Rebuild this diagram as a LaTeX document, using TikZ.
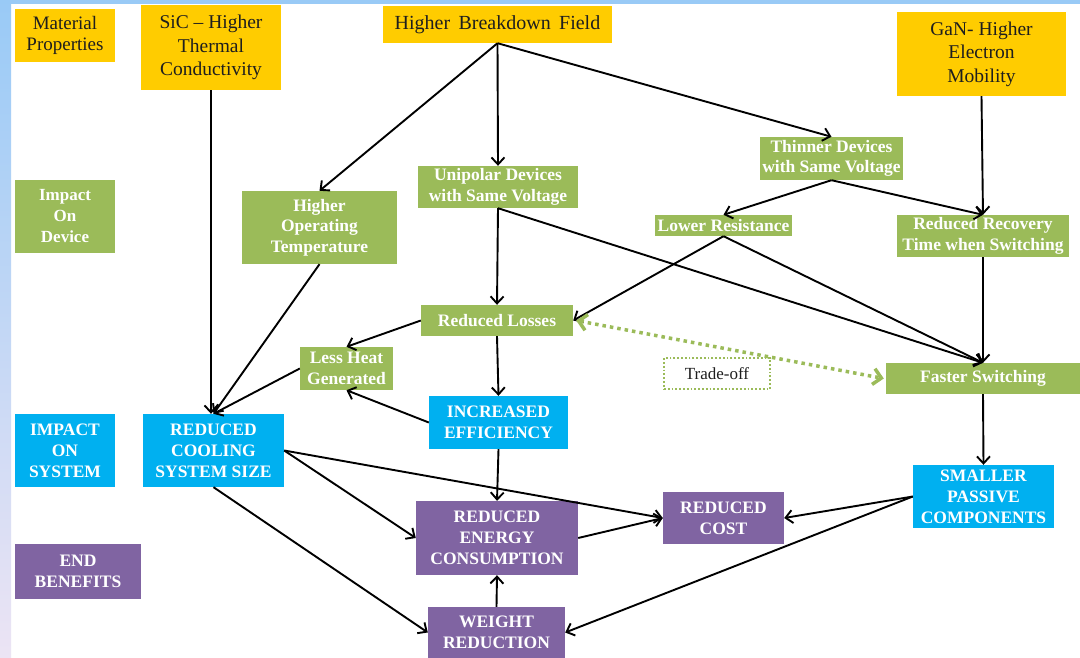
\documentclass[tikz,border=0pt]{standalone}
\usepackage{fontspec}
\setmainfont{Liberation Serif}
\usetikzlibrary{arrows.meta,calc}
\definecolor{cyel}{RGB}{255,204,0}
\definecolor{cgrn}{RGB}{155,187,89}
\definecolor{cblu}{RGB}{0,176,240}
\definecolor{cpur}{RGB}{128,100,162}
\definecolor{cbgtop}{RGB}{153,202,246}
\definecolor{cbgbot}{RGB}{236,228,244}
\definecolor{ctxt}{RGB}{30,30,30}
\begin{document}
\begin{tikzpicture}[x=1pt,y=-1pt,
  base/.style={rectangle, inner sep=0pt, align=center},
  ybox/.style={base, fill=cyel, text=ctxt, font=\fontsize{19.5}{23.5}\selectfont},
  gbox/.style={base, fill=cgrn, text=white, font=\bfseries\fontsize{17.5}{20.5}\selectfont},
  bbox/.style={base, fill=cblu, text=white, font=\bfseries\fontsize{17.5}{21}\selectfont},
  pbox/.style={base, fill=cpur, text=white, font=\bfseries\fontsize{17.5}{21}\selectfont},
  arr/.style={draw=black, line width=1.9pt, -{Straight Barb[length=7pt,width=13pt,line width=1.9pt]}},
  trade/.style={draw=cgrn, line width=3.5pt, dash pattern=on 3.5pt off 4pt,
     {Straight Barb[length=8pt,width=16pt,line width=3.5pt]}-{Straight Barb[length=8pt,width=16pt,line width=3.5pt]}},
  tobox/.style={base, draw=cgrn, line width=1.8pt, dash pattern=on 1.8pt off 2pt, fill=white, text=ctxt,
     font=\fontsize{17}{20}\selectfont}
]
\useasboundingbox (0,0) rectangle (1080,658);
% background
\fill[white] (0,0) rectangle (1080,658);
\fill[cbgtop] (0,0) rectangle (1080,4);
\shade[top color=cbgtop, bottom color=cbgbot] (0,0) rectangle (11,658);

% material properties row
\node[ybox, minimum width=100pt, minimum height=53pt, font=\fontsize{19}{20.5}\selectfont] (mp) at (65,35.5) {Material\\Properties};
\node[ybox, minimum width=140pt, minimum height=85pt] (sic) at (211,47.5) {SiC -- Higher\\Thermal\\Conductivity};
\node[ybox, minimum width=229pt, minimum height=37pt, font=\fontsize{20}{24}\selectfont] (hbf) at (497.5,24.5) {Higher\ \,Breakdown\ \,Field};
\node[ybox, minimum width=169pt, minimum height=84pt] (gan) at (981.5,54) {GaN- Higher\\Electron\\Mobility};

% impact on device row
\node[gbox, minimum width=100pt, minimum height=73pt, font=\bfseries\fontsize{17}{21}\selectfont] (iod) at (65,216.5) {Impact\\On\\Device};
\node[gbox, minimum width=155pt, minimum height=73pt] (hot) at (319.5,227.5) {Higher\\Operating\\Temperature};
\node[gbox, minimum width=160pt, minimum height=42pt] (uni) at (498,187) {Unipolar Devices\\with Same Voltage};
\node[gbox, minimum width=143pt, minimum height=43pt] (thin) at (831.5,158.5) {Thinner Devices\\with Same Voltage};
\node[gbox, minimum width=137pt, minimum height=21pt] (lowr) at (723.5,225.5) {Lower Resistance};
\node[gbox, minimum width=172pt, minimum height=42pt] (rrt) at (983,236) {Reduced Recovery\\Time when Switching};
\node[gbox, minimum width=152pt, minimum height=31pt] (rl) at (497,320.5) {Reduced Losses};
\node[gbox, minimum width=93pt, minimum height=43pt] (lhg) at (346.5,368.5) {Less Heat\\Generated};
\node[gbox, minimum width=194pt, minimum height=31pt] (fs) at (983,378.5) {Faster Switching};
\node[tobox, minimum width=106pt, minimum height=31pt] (to) at (717,373.5) {Trade-off};

% impact on system row
\node[bbox, minimum width=100pt, minimum height=73pt] (ios) at (65,450.5) {IMPACT\\ON\\SYSTEM};
\node[bbox, minimum width=141pt, minimum height=73pt] (rcs) at (213.5,450.5) {REDUCED\\COOLING\\SYSTEM SIZE};
\node[bbox, minimum width=139pt, minimum height=53pt] (ie) at (498.5,422.5) {INCREASED\\EFFICIENCY};
\node[bbox, minimum width=141pt, minimum height=63pt] (spc) at (983.5,496.5) {SMALLER\\PASSIVE\\COMPONENTS};

% end benefits row
\node[pbox, minimum width=126pt, minimum height=55pt] (eb) at (78,571.5) {END\\BENEFITS};
\node[pbox, minimum width=162pt, minimum height=74pt] (rec) at (497,538) {REDUCED\\ENERGY\\CONSUMPTION};
\node[pbox, minimum width=121pt, minimum height=52pt] (rc) at (723.5,518) {REDUCED\\COST};
\node[pbox, minimum width=137pt, minimum height=51pt] (wr) at (496.5,632.5) {WEIGHT\\REDUCTION};

% connectors
\draw[arr] (sic.south) -- (sic.south |- rcs.north);
\draw[arr] (hbf.south) -- (hot.north);
\draw[arr] (hbf.south) -- (uni.north);
\draw[arr] (hbf.south) -- (thin.north);
\draw[arr] (gan.south) -- (rrt.north);
\draw[arr] (thin.south) -- (lowr.north);
\draw[arr] (thin.south) -- (rrt.north);
\draw[arr] (uni.south) -- (rl.north);
\draw[arr] (uni.south) -- (fs.north);
\draw[arr] (lowr.south) -- (rl.east);
\draw[arr] (lowr.south) -- (fs.north);
\draw[arr] (rrt.south) -- (fs.north);
\draw[arr] (rl.west) -- (lhg.north);
\draw[arr] (rl.south) -- (ie.north);
\draw[arr] (hot.south) -- (rcs.north);
\draw[arr] (lhg.west) -- (rcs.north);
\draw[arr] (ie.west) -- (lhg.south);
\draw[arr] (ie.south) -- (rec.north);
\draw[arr] (rcs.east) -- (rc.west);
\draw[arr] (rcs.east) -- (rec.west);
\draw[arr] (rcs.south) -- (wr.west);
\draw[arr] (rec.east) -- (rc.west);
\draw[arr] (spc.west) -- (rc.east);
\draw[arr] (spc.west) -- (wr.east);
\draw[arr] (wr.north) -- (rec.south);
\draw[arr] (fs.south) -- (spc.north);
\draw[trade] ([xshift=3pt]rl.east) -- ([xshift=-2pt]fs.west);
\end{tikzpicture}
\end{document}
